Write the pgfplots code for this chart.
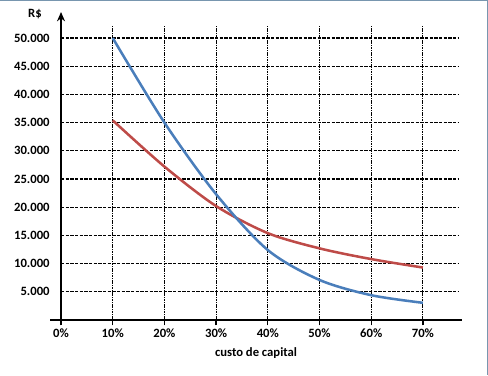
\documentclass[border=0pt]{standalone}
\usepackage{fontspec}
\setmainfont{Carlito}
\usepackage{pgfplots}
\pgfplotsset{compat=1.18}
\usetikzlibrary{arrows.meta}
\definecolor{cblue}{RGB}{74,126,187}
\definecolor{cred}{RGB}{190,75,72}
\definecolor{framec}{RGB}{120,150,175}
\pgfplotstableread{
x y
10 50000
20 35000
30 22300
40 12400
50 7100
60 4400
70 3050
}\blue
\pgfplotstableread{
x y
10 35400
20 27200
30 20200
40 15400
50 12700
60 10800
70 9300
}\red
\begin{document}
\begin{tikzpicture}
\begin{axis}[
  at={(0pt,0pt)}, anchor=south west,
  scale only axis, width=309pt, height=231pt,
  xmin=-2.13, xmax=77.56, ymin=0, ymax=54610,
  axis x line=middle, axis y line=middle,
  hide obscured x ticks=false,
  scaled y ticks=false, scaled x ticks=false,
  x axis line style={-, line width=2.2pt},
  y axis line style={-{Stealth[length=7pt,width=6pt]}, line width=1.9pt},
  xtick={0,10,20,30,40,50,60,70},
  xticklabels={0\%,10\%,20\%,30\%,40\%,50\%,60\%,70\%},
  ytick={5000,10000,15000,20000,25000,30000,35000,40000,45000,50000},
  yticklabels={5.000,10.000,15.000,20.000,25.000,30.000,35.000,40.000,45.000,50.000},
  tick label style={font=\bfseries\fontsize{9.5}{11}\selectfont},
  xticklabel style={anchor=center, yshift=-6pt},
  yticklabel style={anchor=east, xshift=-1pt},
  tick align=outside, major tick length=4pt,
  xtick style={line width=1pt, black},
  ytick style={draw=none},
  xlabel={\bfseries\fontsize{9.5}{11}\selectfont custo de capital},
  xlabel style={at={(rel axis cs:0.5,0)}, anchor=center, yshift=-24.5pt},
  clip=false,
]
\pgfplotsinvokeforeach{5000,10000,15000,20000,25000,30000,35000,40000,45000,50000}{
  \draw[black, line width=0.8pt, dash pattern=on 2.4pt off 1.1pt] (axis cs:0,#1) -- (axis cs:76.8,#1);
}
\pgfplotsinvokeforeach{10,20,30,40,50,60,70}{
  \draw[black, line width=0.8pt, dash pattern=on 1.2pt off 0.6pt] (axis cs:#1,0) -- (axis cs:#1,52130);
}
\addplot[cred, line width=1.9pt, smooth] table[x=x,y=y] {\red};
\addplot[cblue, line width=1.9pt, smooth] table[x=x,y=y] {\blue};
\end{axis}
\node[font=\bfseries\fontsize{9.5}{11}\selectfont] at (-11.25pt,229.5pt) {R\$};
\draw[framec, line width=1.2pt] (-37.5pt,240pt) -- (328.5pt,240pt) -- (328.5pt,-41.25pt);
\pgfresetboundingbox
\path (-37.5pt,-41.25pt) rectangle (328.5pt,240pt);
\end{tikzpicture}
\end{document}
